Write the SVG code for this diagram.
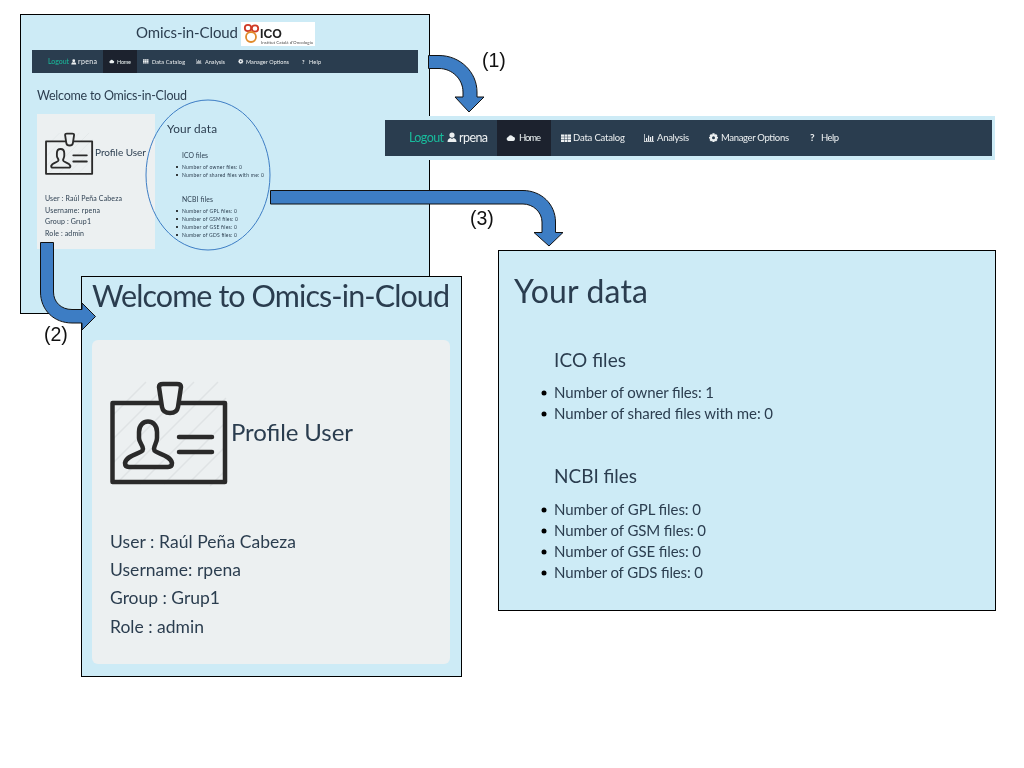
<svg xmlns="http://www.w3.org/2000/svg" width="1024" height="768" viewBox="0 0 1024 768">
<style>
text{font-family:Lato,"Open Sans","Liberation Sans",sans-serif;fill:#2c3e50}
.panel{fill:#cdebf6;stroke:#000;stroke-width:1}
.well{fill:#ecf0f1}
.nav{fill:#2c3e50}
.act{fill:#1a242f}
text.n{fill:#ecf0f1}
text.lg{fill:#18bc9c}
.arr{fill:#3d7dc4;stroke:#111;stroke-width:1}
text.lab{font-family:"Liberation Sans",Arial,sans-serif;font-size:19.500px;fill:#111}
.ic{fill:none;stroke:#2b2b2b;stroke-width:4.500;stroke-linejoin:round;stroke-linecap:round}
.hatch{stroke:#dfe3e5;stroke-width:1.500;fill:none}
.w{fill:#ecf0f1}
</style>
<defs>
<filter id="soft" x="-5%" y="-5%" width="110%" height="110%"><feGaussianBlur stdDeviation="0.35"/></filter>
<g id="badge">
<path class="hatch" d="M2 36L36 2M2 60L60 2M2 84L84 2M8 102L108 2M30 104L116 18M54 104L116 42M78 104L116 66M100 106L116 90"/>
<rect class="ic" x="2.500" y="23" width="112.500" height="79"/>
<path class="ic" style="fill:#ecf0f1" d="M49 7Q49 4 53 4H67Q71 4 71 7L68 27Q67 33 60 33Q53 33 52 27Z"/>
<path class="ic" d="M29 52C29 38 47 38 47 52V58C47 63 44 65 44 69C44 74 60 74 62 83C62 86 60 87 58 87H19C17 87 15 86 15 83C17 74 33 74 33 69C33 65 29 63 29 58Z"/>
<path class="ic" d="M69 57H102M69 72H102"/>
</g>
<path id="i-user" class="w" d="M5 0.500A2.600 2.600 0 1 1 5 5.700A2.600 2.600 0 1 1 5 0.500ZM0.500 10C0.500 7 2.500 6 3.500 6L5 7L6.500 6C7.500 6 9.500 7 9.500 10Z"/>
<path id="i-cloud" class="w" d="M2.500 8.500A2.200 2.200 0 0 1 2.300 4.200A2.800 2.800 0 0 1 7.500 4A2.300 2.300 0 0 1 7.800 8.500Z"/>
<path id="i-grid" class="w" d="M0 1.500H3V3.700H0ZM3.500 1.500H6.500V3.700H3.500ZM7 1.500H10V3.700H7ZM0 4.200H3V6.300H0ZM3.500 4.200H6.500V6.300H3.500ZM7 4.200H10V6.300H7ZM0 6.800H3V9H0ZM3.500 6.800H6.500V9H3.500ZM7 6.800H10V9H7Z"/>
<path id="i-bars" class="w" d="M0 1H0.700V8.300H10V9H0ZM2 5H3.200V8H2ZM4 2.500H5.200V8H4ZM6 4H7.200V8H6ZM8 3H9.200V8H8Z"/>
<path id="i-cog" class="w" fill-rule="evenodd" d="M4 0.800H6L6.300 2.200L7.500 1.500L8.900 2.900L8.200 4.100L9.500 4.400V6L8.200 6.300L8.900 7.500L7.500 8.900L6.300 8.200L6 9.500H4L3.700 8.200L2.500 8.900L1.100 7.500L1.800 6.300L0.500 6V4.400L1.800 4.100L1.100 2.900L2.500 1.500L3.700 2.200ZM5 3.700A1.500 1.500 0 1 0 5 6.700A1.500 1.500 0 1 0 5 3.700Z"/>
</defs>

<g id="main-panel">
<rect class="panel" x="20.500" y="14.500" width="409" height="299"/>
<g filter="url(#soft)">
<text x="136" y="38" font-size="15" textLength="102" lengthAdjust="spacing">Omics-in-Cloud</text>
<rect x="241" y="22" width="74" height="24" fill="#fff"/>
<circle cx="248" cy="28" r="3.200" fill="none" stroke="#cf3a26" stroke-width="1.800"/>
<circle cx="255" cy="28.500" r="3.200" fill="none" stroke="#cf3a26" stroke-width="1.800"/>
<circle cx="251" cy="37" r="5" fill="none" stroke="#e08a2b" stroke-width="1.800"/>
<text x="260" y="38" font-size="13" font-weight="700" textLength="22" lengthAdjust="spacingAndGlyphs" style="font-family:'Liberation Sans',sans-serif;fill:#222">ICO</text>
<text x="261" y="44" font-size="4.500" textLength="52" style="fill:#555">Institut Català d'Oncologia</text>
<rect class="nav" x="32" y="50" width="386" height="23"/>
<rect class="act" x="103" y="50" width="34" height="23"/>
<text class="lg" x="48" y="64" font-size="7" textLength="21">Logout</text>
<use href="#i-user" transform="translate(71 59) scale(0.55)"/>
<text class="n" x="78" y="64" font-size="7" textLength="19">rpena</text>
<use href="#i-cloud" transform="translate(109 58.500) scale(0.55)"/>
<text class="n" x="117" y="63.500" font-size="5.500" textLength="14">Home</text>
<use href="#i-grid" transform="translate(143 58.500) scale(0.55)"/>
<text class="n" x="152" y="63.500" font-size="5.500" textLength="33">Data Catalog</text>
<use href="#i-bars" transform="translate(196 58.500) scale(0.55)"/>
<text class="n" x="205" y="63.500" font-size="5.500" textLength="20">Analysis</text>
<use href="#i-cog" transform="translate(238 58.500) scale(0.55)"/>
<text class="n" x="246" y="63.500" font-size="5.500" textLength="43">Manager Options</text>
<text class="n" x="302" y="63.500" font-size="5.500" font-weight="700">?</text>
<text class="n" x="309" y="63.500" font-size="5.500" textLength="12">Help</text>
<text x="37" y="100" font-size="12.500" textLength="150">Welcome to Omics-in-Cloud</text>
<rect class="well" x="37" y="114" width="118" height="135"/>
<use href="#badge" transform="translate(45 132) scale(0.41)"/>
<text x="95" y="156" font-size="10" textLength="51">Profile User</text>
<g font-size="7">
<text x="45" y="201" textLength="77">User : Raúl Peña Cabeza</text>
<text x="45" y="212.500" textLength="55">Username: rpena</text>
<text x="45" y="224" textLength="46">Group : Grup1</text>
<text x="45" y="236" textLength="39">Role : admin</text>
</g>
<text x="167" y="133" font-size="11.800" textLength="50">Your data</text>
<text x="182" y="158" font-size="6.800" textLength="26">ICO files</text>
<g font-size="5">
<circle cx="177" cy="167" r="1"/><text x="182" y="168.500" textLength="60">Number of owner files: 0</text>
<circle cx="177" cy="175" r="1"/><text x="182" y="176.500" textLength="82">Number of shared files with me: 0</text>
</g>
<text x="182" y="202" font-size="6.800" textLength="31">NCBI files</text>
<g font-size="5">
<circle cx="177" cy="211" r="1"/><text x="182" y="212.500" textLength="55">Number of GPL files: 0</text>
<circle cx="177" cy="219" r="1"/><text x="182" y="220.500" textLength="56">Number of GSM files: 0</text>
<circle cx="177" cy="227" r="1"/><text x="182" y="228.500" textLength="55">Number of GSE files: 0</text>
<circle cx="177" cy="235" r="1"/><text x="182" y="236.500" textLength="55">Number of GDS files: 0</text>
</g>
</g>
<ellipse cx="208" cy="175" rx="62" ry="75" fill="none" stroke="#3d7dc4" stroke-width="1"/>
</g>

<g id="navbar-zoom" filter="url(#soft)">
<rect x="385" y="116" width="610" height="44" fill="#cdebf6"/>
<rect class="nav" x="385" y="120" width="607" height="36"/>
<rect class="act" x="497" y="120" width="54" height="36"/>
<text class="lg" x="409" y="142" font-size="12.500" textLength="35">Logout</text>
<use href="#i-user" transform="translate(447 132)"/>
<text class="n" x="459" y="142" font-size="12.500" textLength="29">rpena</text>
<use href="#i-cloud" transform="translate(506 133) scale(0.95)"/>
<text class="n" x="519" y="141" font-size="9.500" textLength="22">Home</text>
<use href="#i-grid" transform="translate(561 133)"/>
<text class="n" x="573" y="141" font-size="9.500" textLength="52">Data Catalog</text>
<use href="#i-bars" transform="translate(644 133)"/>
<text class="n" x="657" y="141" font-size="9.500" textLength="32">Analysis</text>
<use href="#i-cog" transform="translate(708.500 132.500)"/>
<text class="n" x="721" y="141" font-size="9.500" textLength="68">Manager Options</text>
<text class="n" x="810" y="141" font-size="10" font-weight="700">?</text>
<text class="n" x="821" y="141" font-size="9.500" textLength="18">Help</text>
</g>

<g id="your-data">
<rect class="panel" x="498.500" y="250.500" width="497" height="360"/>
<g filter="url(#soft)">
<text x="514" y="302.500" font-size="32" textLength="134">Your data</text>
<text x="554" y="367" font-size="19" textLength="72">ICO files</text>
<g font-size="15">
<circle cx="544" cy="393" r="2.500"/><text x="554" y="397.500" textLength="160">Number of owner files: 1</text>
<circle cx="544" cy="414" r="2.500"/><text x="554" y="418.500" textLength="219">Number of shared files with me: 0</text>
</g>
<text x="554" y="483" font-size="19" textLength="83">NCBI files</text>
<g font-size="15">
<circle cx="544" cy="510" r="2.500"/><text x="554" y="514.500" textLength="147">Number of GPL files: 0</text>
<circle cx="544" cy="531" r="2.500"/><text x="554" y="535.500" textLength="152">Number of GSM files: 0</text>
<circle cx="544" cy="552" r="2.500"/><text x="554" y="556.500" textLength="147">Number of GSE files: 0</text>
<circle cx="544" cy="573" r="2.500"/><text x="554" y="577.500" textLength="149">Number of GDS files: 0</text>
</g>
</g>
</g>

<g id="welcome">
<rect class="panel" x="81.500" y="276.500" width="380" height="400"/>
<g filter="url(#soft)">
<text x="92" y="307" font-size="30.500" textLength="358">Welcome to Omics-in-Cloud</text>
<rect class="well" x="92" y="340" width="358" height="324" rx="6"/>
<use href="#badge" transform="translate(110 380)"/>
<text x="231" y="441" font-size="24" textLength="122">Profile User</text>
<g font-size="17.500">
<text x="110" y="548" textLength="186">User : Raúl Peña Cabeza</text>
<text x="110" y="576" textLength="131">Username: rpena</text>
<text x="110" y="604" textLength="110">Group : Grup1</text>
<text x="110" y="633" textLength="94">Role : admin</text>
</g>
</g>
</g>

<g id="connectors">
<path class="arr" d="M428.500 55.500H439C460 55.500 477 72 477 92V97H484L469 112L455 97H463V92C463 79 452 68.500 439 68.500H428.500Z"/>
<path class="arr" d="M270.500 190.500H523C541 190.500 555.500 204 555.500 222V232.500H563L549 246L534 232.500H542V222C542 212 533 204 523 204H270.500Z"/>
<path class="arr" d="M40.500 242.500H53.500V292C53.500 302 61 309.500 72 309.500H82V303L95.500 316.500L82 330V323H72C54 323 40.500 310 40.500 292Z"/>
</g>

<g id="labels">
<text class="lab" x="482" y="67">(1)</text>
<text class="lab" x="44" y="341">(2)</text>
<text class="lab" x="470" y="225">(3)</text>
</g>
</svg>
